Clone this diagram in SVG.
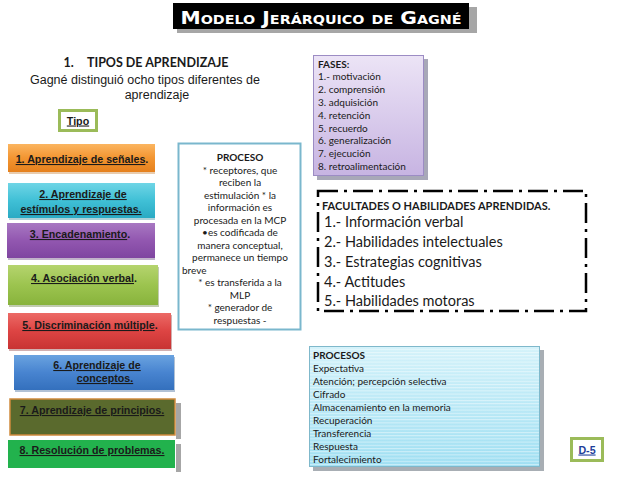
<svg xmlns="http://www.w3.org/2000/svg" width="638" height="479" viewBox="0 0 638 479">
<defs>
<linearGradient id="gOr" x1="0" y1="0" x2="0" y2="1"><stop offset="0" stop-color="#fbb560"/><stop offset="0.5" stop-color="#f39531"/><stop offset="1" stop-color="#e5801d"/></linearGradient>
<linearGradient id="gCy" x1="0" y1="0" x2="0" y2="1"><stop offset="0" stop-color="#6fd5e6"/><stop offset="0.5" stop-color="#40c0d6"/><stop offset="1" stop-color="#2aaac3"/></linearGradient>
<linearGradient id="gPu" x1="0" y1="0" x2="0" y2="1"><stop offset="0" stop-color="#a878c2"/><stop offset="0.5" stop-color="#9257b0"/><stop offset="1" stop-color="#7f45a0"/></linearGradient>
<linearGradient id="gGr" x1="0" y1="0" x2="0" y2="1"><stop offset="0" stop-color="#b5d46e"/><stop offset="0.5" stop-color="#9cc44f"/><stop offset="1" stop-color="#88b33c"/></linearGradient>
<linearGradient id="gRe" x1="0" y1="0" x2="0" y2="1"><stop offset="0" stop-color="#ec6a66"/><stop offset="0.5" stop-color="#dd4443"/><stop offset="1" stop-color="#c83333"/></linearGradient>
<linearGradient id="gBl" x1="0" y1="0" x2="0" y2="1"><stop offset="0" stop-color="#6aa3e0"/><stop offset="0.5" stop-color="#4884d0"/><stop offset="1" stop-color="#3470bd"/></linearGradient>
<linearGradient id="gLav" x1="0" y1="0" x2="0" y2="1"><stop offset="0" stop-color="#ece4f6"/><stop offset="1" stop-color="#c7b4e2"/></linearGradient>
<linearGradient id="gAq" x1="0" y1="0" x2="0" y2="1"><stop offset="0" stop-color="#d4f2fa"/><stop offset="1" stop-color="#9fdff2"/></linearGradient>
<pattern id="stripes" width="6" height="3.2" patternUnits="userSpaceOnUse"><rect width="6" height="1" fill="#ffffff" fill-opacity="0.45"/></pattern>
<style>
.bx{font-family:"Liberation Sans",Arial,sans-serif;font-weight:bold;font-size:10.7px;fill:#1a1a1a;text-anchor:middle}
.u{text-decoration:underline}
.cal{font-family:Lato,"Open Sans",sans-serif;fill:#1a1a1a}
.sh{fill:#a6a6a6}
</style>
</defs>
<rect width="638" height="479" fill="#ffffff"/>

<g id="title">
<rect x="177" y="7" width="300" height="26" class="sh"/>
<rect x="173" y="3" width="296" height="26" fill="#000000"/>
<text x="321" y="24" font-family="DejaVu Sans,sans-serif" font-weight="bold" font-size="17" font-variant="small-caps" fill="#ffffff" text-anchor="middle" textLength="281" lengthAdjust="spacingAndGlyphs">Modelo Jerárquico de Gagné</text>
</g>

<g id="intro">
<text x="146" y="67" class="cal" font-weight="bold" font-size="12.5" text-anchor="middle">1.<tspan dx="14">TIPOS DE APRENDIZAJE</tspan></text>
<text x="145" y="84" font-family="Liberation Sans,Arial,sans-serif" font-size="12.5" fill="#1a1a1a" text-anchor="middle">Gagné distinguió ocho tipos diferentes de</text>
<text x="157" y="99" font-family="Liberation Sans,Arial,sans-serif" font-size="12.5" fill="#1a1a1a" text-anchor="middle">aprendizaje</text>
</g>

<g id="tipo">
<rect x="59.5" y="110.5" width="37" height="20" fill="#ffffff" stroke="#9bbb59" stroke-width="3"/>
<text x="78" y="124.5" class="bx u" font-size="10.5">Tipo</text>
</g>

<g id="t1">
<rect x="9" y="146" width="146" height="28" fill="#c06c16" opacity="0.35"/>
<rect x="8" y="144" width="147" height="28" fill="url(#gOr)"/>
<text x="82" y="163" class="bx"><tspan class="u">1. Aprendizaje de señales</tspan>.</text>
</g>
<g id="t2">
<rect x="9" y="185" width="146" height="35" fill="#1b7f93" opacity="0.35"/>
<rect x="8" y="183" width="147" height="35" fill="url(#gCy)"/>
<text x="83" y="198" class="bx u">2. Aprendizaje de</text>
<text x="81" y="213" class="bx u"> estímulos y respuestas.</text>
</g>
<g id="t3">
<rect x="8" y="225" width="147" height="35" fill="#4d2468" opacity="0.35"/>
<rect x="7" y="223" width="148" height="35" fill="url(#gPu)"/>
<text x="80" y="238" class="bx"><tspan class="u">3. Encadenamiento</tspan>.</text>
</g>
<g id="t4">
<rect x="9" y="267" width="150" height="40" fill="#4d6a1d" opacity="0.35"/>
<rect x="8" y="265" width="150" height="40" fill="url(#gGr)"/>
<text x="84" y="282" class="bx"><tspan class="u">4. Asociación verbal</tspan>.</text>
</g>
<g id="t5">
<rect x="9" y="315" width="163" height="36" fill="#7d1d1d" opacity="0.35"/>
<rect x="8" y="313" width="163" height="36" fill="url(#gRe)"/>
<text x="90" y="329" class="bx"><tspan class="u">5. Discriminación múltiple</tspan>.</text>
</g>
<g id="t6">
<rect x="15" y="357" width="160" height="35" fill="#1f4d85" opacity="0.35"/>
<rect x="14" y="355" width="160" height="35" fill="url(#gBl)"/>
<text x="97" y="369" class="bx u">6. Aprendizaje de</text>
<text x="105" y="382" class="bx u">conceptos.</text>
</g>
<g id="t7">
<rect x="176" y="403" width="5" height="36" class="sh"/>
<rect x="10" y="399" width="165" height="36" fill="#5a6a2d" stroke="#d08a3c" stroke-width="1.5"/>
<text x="92" y="414" class="bx u">7. Aprendizaje de principios.</text>
</g>
<g id="t8">
<rect x="176" y="444" width="5" height="28" class="sh"/>
<rect x="8" y="440" width="167" height="28" fill="#22b24d"/>
<text x="92" y="454" class="bx u">8. Resolución de problemas.</text>
</g>

<g id="proceso">
<rect x="178.5" y="143.5" width="122" height="186" fill="#ffffff" stroke="#7ab7cd" stroke-width="2"/>
<g class="cal" font-size="10" text-anchor="middle">
<text x="240" y="161" font-weight="bold">PROCESO</text>
<text x="240" y="173.5">* receptores, que</text>
<text x="240" y="186">reciben la</text>
<text x="240" y="198.5">estimulación * la</text>
<text x="240" y="211">información es</text>
<text x="240" y="223.5">procesada en la MCP</text>
<text x="240" y="236">•es codificada de</text>
<text x="240" y="248.5">manera conceptual,</text>
<text x="240" y="261">permanece un tiempo</text>
<text x="182" y="273.5" text-anchor="start">breve</text>
<text x="240" y="286">* es transferida a la</text>
<text x="240" y="298.5">MLP</text>
<text x="240" y="311">* generador de</text>
<text x="240" y="323.5">respuestas -</text>
</g>
</g>

<g id="fases">
<rect x="317" y="59" width="111" height="121" fill="#a8a8b8"/>
<rect x="313.5" y="55.5" width="110" height="120" fill="url(#gLav)" stroke="#9c8cc4" stroke-width="1"/>
<g class="cal" font-size="10">
<text x="318" y="67.5" font-weight="bold">FASES:</text>
<text x="318" y="80.3">1.- motivación</text>
<text x="318" y="93.1">2. comprensión</text>
<text x="318" y="105.9">3. adquisición</text>
<text x="318" y="118.7">4. retención</text>
<text x="318" y="131.5">5. recuerdo</text>
<text x="318" y="144.3">6. generalización</text>
<text x="318" y="157.1">7. ejecución</text>
<text x="318" y="169.9">8. retroalimentación</text>
</g>
</g>

<g id="facultades">
<rect x="318" y="191" width="268" height="120" fill="none" stroke="#000000" stroke-width="2.5" stroke-dasharray="20 6 3 6"/>
<g class="cal">
<text x="322" y="210" font-weight="bold" font-size="11">FACULTADES O HABILIDADES APRENDIDAS.</text>
<text x="324" y="227" font-size="14.5">1.- Información verbal</text>
<text x="324" y="247" font-size="14.5">2.- Habilidades intelectuales</text>
<text x="324" y="267" font-size="14.5">3.- Estrategias cognitivas</text>
<text x="324" y="287" font-size="14.5">4.- Actitudes</text>
<text x="324" y="305.5" font-size="14.5">5.- Habilidades motoras</text>
</g>
</g>

<g id="procesos">
<rect x="313" y="350" width="231" height="121" fill="#a8aeb4"/>
<rect x="309.5" y="346.5" width="230" height="120" fill="url(#gAq)" stroke="#7fb8cb" stroke-width="1"/>
<rect x="310" y="347" width="229" height="119" fill="url(#stripes)"/>
<g class="cal" font-size="10">
<text x="313" y="358.5" font-weight="bold">PROCESOS</text>
<text x="313" y="371.6">Expectativa</text>
<text x="313" y="384.7">Atención; percepción selectiva</text>
<text x="313" y="397.8">Cifrado</text>
<text x="313" y="410.9">Almacenamiento en la memoria</text>
<text x="313" y="424">Recuperación</text>
<text x="313" y="437.1">Transferencia</text>
<text x="313" y="450.2">Respuesta</text>
<text x="313" y="463.3">Fortalecimiento</text>
</g>
</g>

<g id="d5">
<rect x="571.5" y="438.5" width="31" height="22" fill="#ffffff" stroke="#9bbb59" stroke-width="3"/>
<text x="587" y="453.5" class="bx u" font-size="10.5" style="fill:#1f3f9a">D-5</text>
</g>
</svg>
